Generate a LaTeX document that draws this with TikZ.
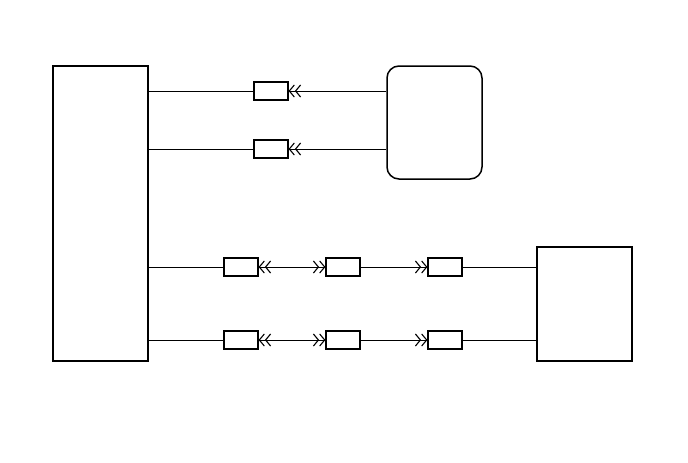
\documentclass[tikz,border=0pt]{standalone}
\usetikzlibrary{arrows.meta}
\tikzset{
  dchev/.tip={Straight Barb[length=5pt,width=12pt,line width=1.1pt,sep=0pt]Straight Barb[length=5pt,width=12pt,line width=1.1pt,sep=0pt]}}
\begin{document}
\begin{tikzpicture}[x=1pt,y=-1pt,
  bigbox/.style={draw, line width=1.5pt, minimum width=95pt, inner sep=0pt},
  plug/.style={draw, line width=1.2pt, minimum width=34pt, minimum height=18pt, inner sep=0pt},
  wire/.style={line width=0.7pt}]
\useasboundingbox (0,0) rectangle (688,463);
\node[bigbox, minimum height=295pt] (L) at (100.5,213.5) {};
\node[bigbox, minimum height=113pt, rounded corners=12pt] (R) at (434.5,122.5) {};
\node[bigbox, minimum height=114pt] (B) at (584.5,304) {};
% top connectors
\node[plug] (c1) at (271,91) {};
\node[plug] (c2) at (271,149) {};
\draw[wire] (L.east |- c1) -- (c1.west);
\draw[wire] (L.east |- c2) -- (c2.west);
\draw[wire, dchev-] (c1.east) -- (c1 -| R.west);
\draw[wire, dchev-] (c2.east) -- (c2 -| R.west);
% bottom rows
\foreach \n/\y in {a/267,b/340}{
  \node[plug] (\n1) at (241,\y) {};
  \node[plug] (\n2) at (343,\y) {};
  \node[plug] (\n3) at (445,\y) {};
  \draw[wire] (L.east |- \n1) -- (\n1.west);
  \draw[wire, dchev-dchev] (\n1.east) -- (\n2.west);
  \draw[wire, -dchev] (\n2.east) -- (\n3.west);
  \draw[wire] (\n3.east) -- (\n3 -| B.west);
}
\end{tikzpicture}
\end{document}
